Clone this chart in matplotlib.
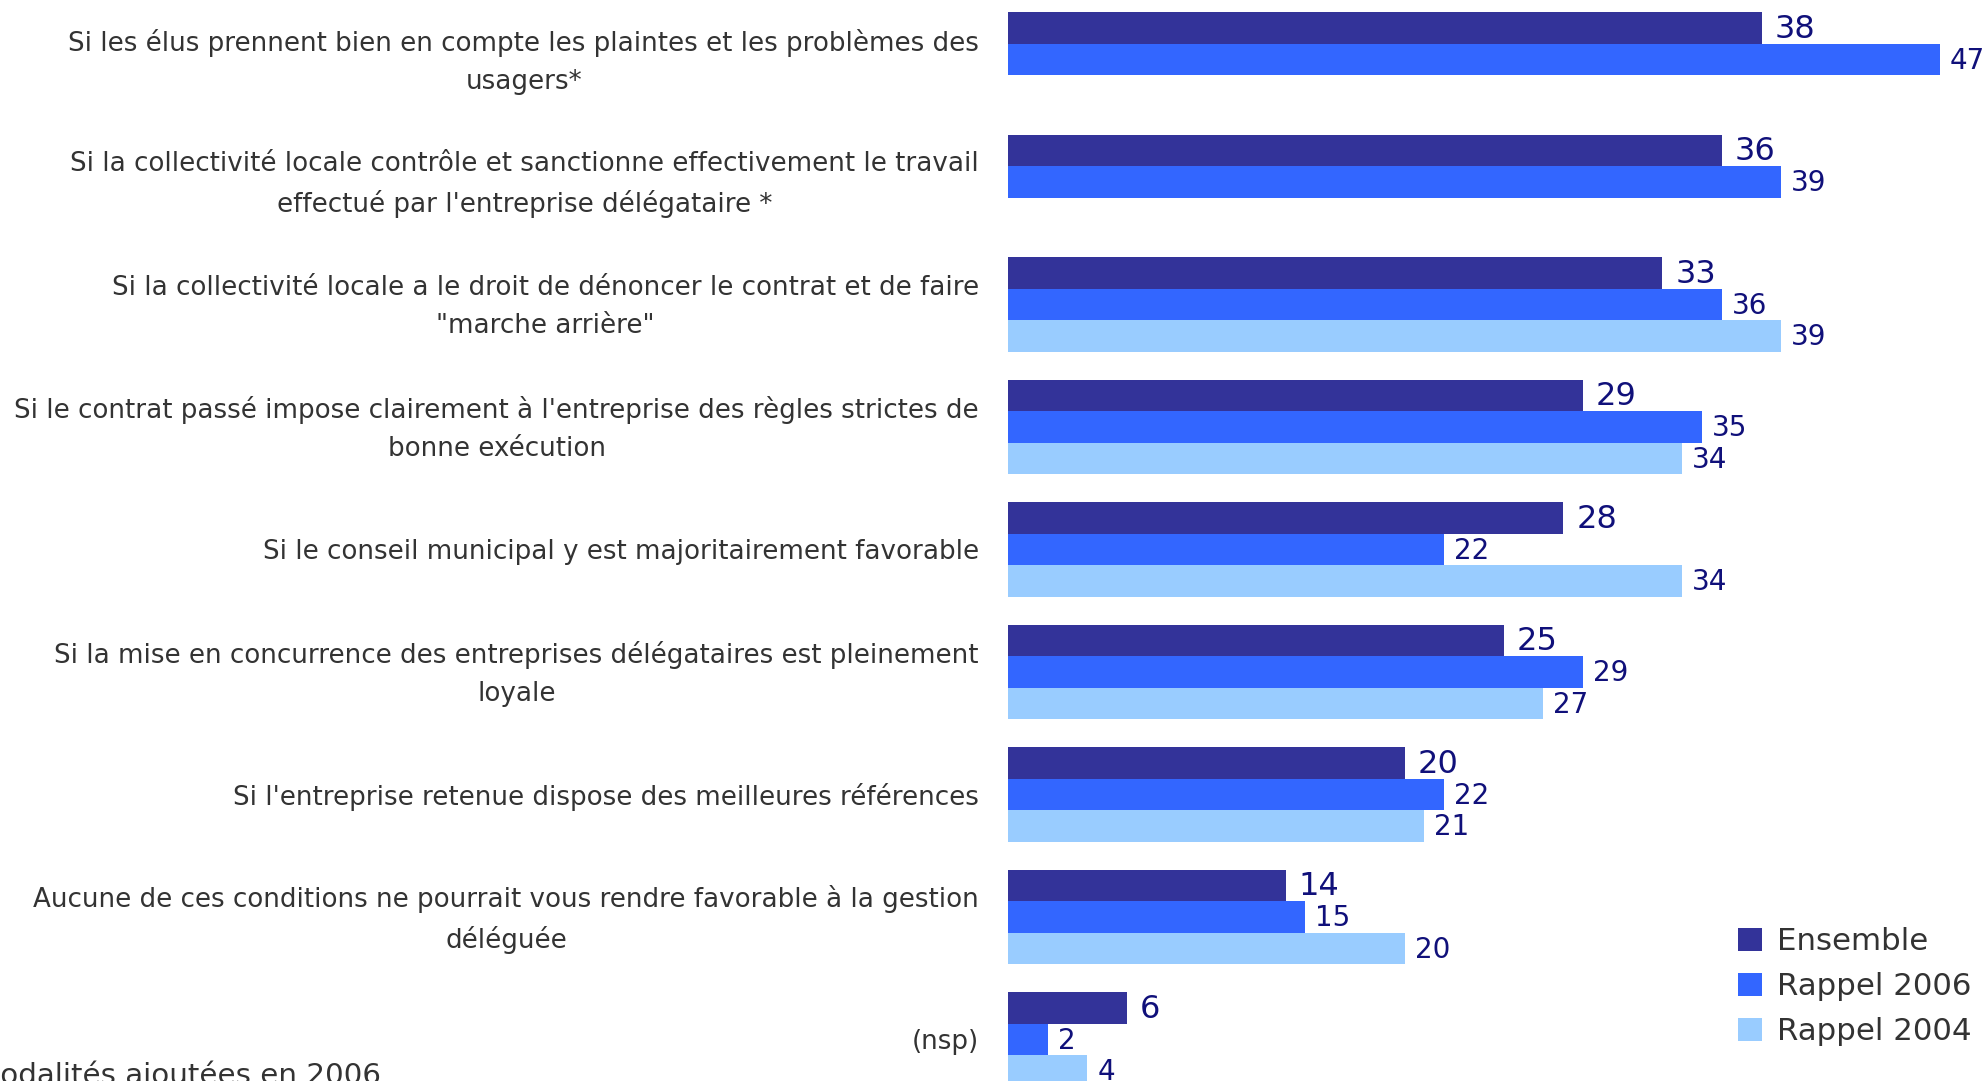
import matplotlib
matplotlib.use("Agg")
import matplotlib.pyplot as plt
import numpy as np
from matplotlib.patches import Patch

categories = [
    "Si les élus prennent bien en compte les plaintes et les problèmes des\nusagers*",
    "Si la collectivité locale contrôle et sanctionne effectivement le travail\neffectué par l'entreprise délégataire *",
    "Si la collectivité locale a le droit de dénoncer le contrat et de faire\n\"marche arrière\"",
    "Si le contrat passé impose clairement à l'entreprise des règles strictes de\nbonne exécution",
    "Si le conseil municipal y est majoritairement favorable",
    "Si la mise en concurrence des entreprises délégataires est pleinement\nloyale",
    "Si l'entreprise retenue dispose des meilleures références",
    "Aucune de ces conditions ne pourrait vous rendre favorable à la gestion\ndéléguée",
    "(nsp)",
]
ensemble = [38, 36, 33, 29, 28, 25, 20, 14, 6]
rappel_2006 = [47, 39, 36, 35, 22, 29, 22, 15, 2]
rappel_2004 = [None, None, 39, 34, 34, 27, 21, 20, 4]
series_names = ["Ensemble", "Rappel 2006", "Rappel 2004"]
footnote = "* Modalités ajoutées en 2006"

colors = ["#333399", "#3366FF", "#99CCFF"]
value_color = "#10107A"
text_color = "#333333"

W, H = 1986, 1081
fig = plt.figure(figsize=(W / 100, H / 100), dpi=100)

# axes geometry in pixels
x0_px = 1008
px_per_unit = 19.83
group_px = 122.5
first_center_px = 59.3
xmax = (W - x0_px) / px_per_unit
ax = fig.add_axes([x0_px / W, 0, (W - x0_px) / W, 1])
ymin = -first_center_px / group_px
ymax = (H - first_center_px) / group_px
ax.set_xlim(0, xmax)
ax.set_ylim(ymax, ymin)
ax.axis("off")

h = 31.5 / group_px
y = np.arange(len(categories))
offsets = [-h, 0, h]
all_series = [ensemble, rappel_2006, rappel_2004]
label_sizes = [23, 20, 20]
gaps = [13 / px_per_unit, 10 / px_per_unit, 10 / px_per_unit]

for s, (vals, off, col) in enumerate(zip(all_series, offsets, colors)):
    for i, v in enumerate(vals):
        if v is None:
            continue
        ax.barh(y[i] + off, v, height=h, left=0, color=col, edgecolor="none",
                clip_on=False)
        ax.text(v + gaps[s], y[i] + off + 1.5 / group_px, str(v),
                ha="left", va="center", fontsize=label_sizes[s],
                color=value_color, family="DejaVu Sans", clip_on=False)

label_x = -(x0_px - 979) / px_per_unit
for i, cat in enumerate(categories):
    ax.text(label_x, y[i] + 2.5 / group_px, cat, ha="right", va="center",
            multialignment="center", fontsize=18.8, color=text_color,
            family="DejaVu Sans", linespacing=1.58, clip_on=False)

# legend
handles = [Patch(facecolor=c, edgecolor="none") for c in colors]
leg = fig.legend(handles, series_names, loc="upper left",
                 bbox_to_anchor=(1738 / W, 1 - 927 / H),
                 frameon=False, fontsize=22.2, handlelength=0.78,
                 handleheight=0.78, handletextpad=0.5, labelspacing=0.52,
                 borderpad=0, borderaxespad=0)
for t in leg.get_texts():
    t.set_color(text_color)

fig.text(381 / W, 1 - 1084.5 / H, footnote, ha="right", va="baseline",
         fontsize=21.2, color=text_color, family="DejaVu Sans")

fig.savefig("out.png", dpi=100)
